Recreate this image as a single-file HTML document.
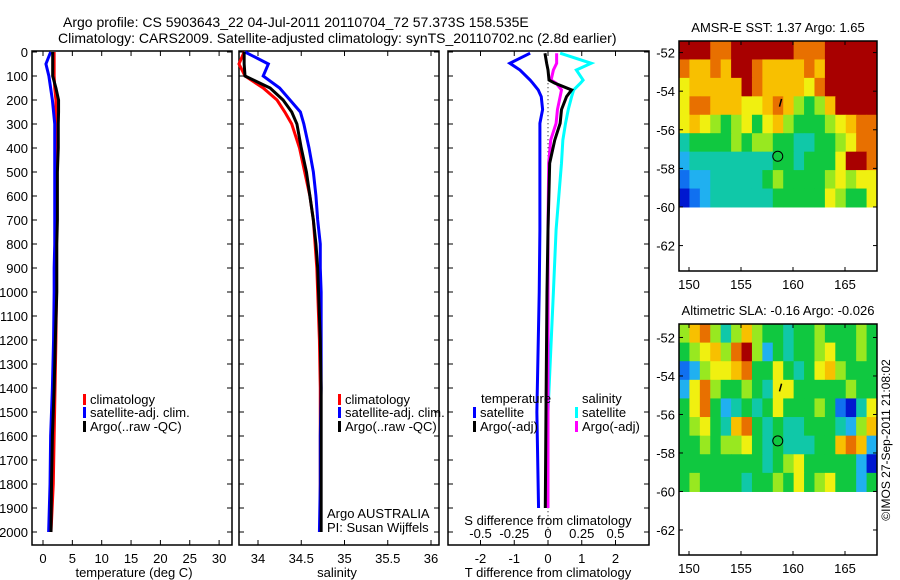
<!DOCTYPE html>
<html><head><meta charset="utf-8"><style>
body{margin:0;background:#fff;}
svg{display:block;font-family:"Liberation Sans",sans-serif;}
text{fill:#000;}
</style></head><body>
<svg id="fig" width="900" height="580" viewBox="0 0 900 580">
<text x="63" y="27" font-size="14">Argo profile: CS 5903643_22 04-Jul-2011 20110704_72 57.373S 158.535E</text>
<text x="58" y="43" font-size="14">Climatology: CARS2009. Satellite-adjusted climatology: synTS_20110702.nc (2.8d earlier)</text>
<g id="g"></g>
</svg>
<script>
// ---- data ----
const depths=[0,50,100,150,200,250,300,400,500,600,700,800,900,1000,1200,1400,1600,1800,2000];
const tempClim=[1.9,1.9,1.9,2.0,2.2,2.2,2.2,2.2,2.2,2.2,2.25,2.3,2.3,2.3,2.2,2.05,1.9,1.75,1.36];
const tempSat=[1.3,0.5,1.0,1.3,1.6,1.8,2.0,2.0,2.0,2.0,2.0,2.0,1.9,1.9,1.8,1.6,1.3,1.2,0.96];
const tempArgo=[1.65,1.65,1.65,2.2,2.65,2.65,2.6,2.6,2.45,2.45,2.45,2.35,2.35,2.35,2.1,1.9,1.6,1.45,1.36];
const salClim=[33.84,33.78,33.85,34.06,34.22,34.31,34.39,34.48,34.54,34.6,34.64,34.66,34.68,34.69,34.71,34.72,34.72,34.72,34.72];
const salSat=[33.85,34.12,34.06,34.25,34.37,34.49,34.53,34.59,34.64,34.67,34.69,34.72,34.72,34.73,34.73,34.73,34.72,34.72,34.71];
const salArgo=[33.84,33.84,33.85,34.14,34.29,34.39,34.45,34.5,34.56,34.6,34.64,34.67,34.69,34.7,34.72,34.73,34.73,34.73,34.73];
const dDepths=[5,47,75,117,130,158,186,240,297,367,463,740,1000,1500,1900];
const tDiffSat=[-0.53,-1.13,-0.83,-0.53,-0.45,-0.29,-0.2,-0.16,-0.24,-0.24,-0.24,-0.24,-0.26,-0.33,-0.28];
const tDiffArgo=[-0.09,-0.04,0,0.03,0.2,0.7,0.55,0.4,0.36,0.2,0.05,0.0,-0.03,-0.06,-0.08];
const sDiffSat=[0.09,0.32,0.21,0.26,0.24,0.19,0.175,0.15,0.13,0.11,0.1,0.06,0.04,0.0,-0.01];
const sDiffArgo=[0.064,0.064,0.04,0.023,0.06,0.1,0.09,0.07,0.06,0.02,0.005,0.0,0.0,0.0,0.0];
const depthTicks=[0,100,200,300,400,500,600,700,800,900,1000,1100,1200,1300,1400,1500,1600,1700,1800,1900,2000];
const tempTicks=[0,5,10,15,20,25,30];
const salTicks=[34,34.5,35,35.5,36];
const tDiffTicks=[-2,-1,0,1,2];
const sDiffTicks=[-0.5,-0.25,0,0.25,0.5];
const sstGrid=["9998899999988899999","8778799877778799999","6777779877776899999","6887776678754579999","6765456467544456788","3444454554433445688","2333333334434446998","1223333345444456566","0123333334444465446"];
const slaGrid=["5785357544344544454","4567589524344564454","1256678446434675444","2685445436644444544","4684234346444541036","4564378434334443257","4454556434333447872","4444444434564444420","4544443445464564424"];
const lonTicks=[150,155,160,165];
const latTicks=[-52,-54,-56,-58,-60,-62];
const floatLon=158.535, floatLat=-57.373;
// ---- drawing ----
const NS="http://www.w3.org/2000/svg";
const G=document.getElementById('g');
function el(t,a,txt){const e=document.createElementNS(NS,t);for(const k in a)e.setAttribute(k,a[k]);if(txt!==undefined)e.textContent=txt;G.appendChild(e);return e;}
const yD=d=>52+0.24*d;
const xT=v=>43+5.87*v, xS=v=>258+86.5*(v-34), xTD=v=>548+33.75*v, xSD=v=>548+135*v;
function frame(x0,x1,y0,y1,name){const r=el('rect',{x:x0,y:y0,width:x1-x0,height:y1-y0,fill:'none',stroke:'#000','stroke-width':1.5});

}
function line(xs,ys,col,name,w){const p=el('polyline',{points:xs.map((x,i)=>x+','+ys[i]).join(' '),fill:'none',stroke:col,'stroke-width':w||3});

}
function txt(x,y,s,anchor,name,size){const t=el('text',{x:x,y:y,'font-size':size||13,'text-anchor':anchor||'start'},s);

return t;}
// panels
const panels=[[32,232],[239,439],[448,649]];
panels.forEach((p,i)=>{frame(p[0],p[1],51,545,'profile-panel-'+(i+1));
depthTicks.forEach(d=>{el('line',{x1:p[0],x2:p[0]+5,y1:yD(d),y2:yD(d),stroke:'#000'});el('line',{x1:p[1],x2:p[1]-5,y1:yD(d),y2:yD(d),stroke:'#000'});});});
depthTicks.forEach(d=>txt(28,yD(d)+5,String(d),'end','depth-tick-label',13));
function xticks(ticks,f,p,name,top){ticks.forEach(v=>{const x=f(v);el('line',{x1:x,x2:x,y1:545,y2:540,stroke:'#000'});if(top)el('line',{x1:x,x2:x,y1:51,y2:56,stroke:'#000'});txt(x,563,String(v),'middle',name,13);});}
xticks(tempTicks,xT,panels[0],'temp-tick-label',true);
xticks(salTicks,xS,panels[1],'sal-tick-label',true);
xticks(tDiffTicks,xTD,panels[2],'tdiff-tick-label',true);
sDiffTicks.forEach(v=>txt(xSD(v),538,String(v),'middle','sdiff-tick-label',13));
txt(134,577,'temperature (deg C)','middle','temp-axis-title');
txt(337,577,'salinity','middle','sal-axis-title');
txt(548,577,'T difference from climatology','middle','tdiff-axis-title');
txt(548,525,'S difference from climatology','middle','sdiff-axis-title');
// profiles
const yd=depths.map(yD);
line(tempClim.map(xT),yd,'#f00','temp-climatology-line');
line(tempSat.map(xT),yd,'#00f','temp-satellite-line');
line(tempArgo.map(xT),yd,'#000','temp-argo-line');
line(salClim.map(xS),yd,'#f00','sal-climatology-line');
line(salSat.map(xS),yd,'#00f','sal-satellite-line');
line(salArgo.map(xS),yd,'#000','sal-argo-line');
const ydd=dDepths.map(yD);
const dz=el('line',{x1:548,x2:548,y1:yD(130),y2:yD(2000),stroke:'#000','stroke-dasharray':'1,3'});


line(tDiffSat.map(xTD),ydd,'#00f','tdiff-satellite-line');
line(sDiffSat.map(xSD),ydd,'#0ff','sdiff-satellite-line');
line(sDiffArgo.map(xSD),ydd,'#f0f','sdiff-argo-line');
line(tDiffArgo.map(xTD),ydd,'#000','tdiff-argo-line');
// legends
function leg(x,y,col,s,name){const r=el('rect',{x:x,y:y-10,width:3,height:11,fill:col});


txt(x+7,y,s,'start',name);}
leg(83,404,'#f00','climatology','legend-climatology');
leg(83,417,'#00f','satellite-adj. clim.','legend-satellite');
leg(83,431,'#000','Argo(..raw -QC)','legend-argo');
leg(338,404,'#f00','climatology','legend2-climatology');
leg(338,417,'#00f','satellite-adj. clim.','legend2-satellite');
leg(338,431,'#000','Argo(..raw -QC)','legend2-argo');
txt(327,518,'Argo AUSTRALIA','start','argo-australia-label');
txt(327,532,'PI: Susan Wijffels','start','pi-label');
txt(481,403,'temperature','start','legend-temperature-heading');
txt(582,403,'salinity','start','legend-salinity-heading');
leg(473,417,'#00f','satellite','legend-t-satellite');
leg(473,431,'#000','Argo(-adj)','legend-t-argo');
leg(575,417,'#0ff','satellite','legend-s-satellite');
leg(575,431,'#f0f','Argo(-adj)','legend-s-argo');
// maps
const pal=['#0018d0','#1070f0','#20b0f0','#10c8a8','#10c840','#98e820','#f0f010','#f8c000','#e87000','#a80000'];
function map(y0,y1,grid,name,title,pxPerLat,latTop){
const x0=679,x1=877,xL=lon=>689+(lon-150)*10.4,yL=lat=>y0+(latTop-lat)*pxPerLat;
const cw=(x1-x0)/grid[0].length,ch=(yL(-60)-y0)/grid.length;
grid.forEach((row,r)=>{for(let c=0;c<row.length;c++){const e=el('rect',{x:x0+c*cw,y:y0+r*ch,width:cw+0.5,height:ch+0.5,fill:pal[+row[c]]});

}});
frame(x0,x1,y0,y1,name+'-frame');
latTicks.forEach(v=>{el('line',{x1:x0,x2:x0+4,y1:yL(v),y2:yL(v),stroke:'#000'});el('line',{x1:x1,x2:x1-4,y1:yL(v),y2:yL(v),stroke:'#000'});txt(x0-4,yL(v)+5,String(v),'end',name+'-lat-label',13);});
lonTicks.forEach(v=>{el('line',{x1:xL(v),x2:xL(v),y1:y1,y2:y1-4,stroke:'#000'});el('line',{x1:xL(v),x2:xL(v),y1:y0,y2:y0+4,stroke:'#000'});txt(xL(v),y1+18,String(v),'middle',name+'-lon-label',13);});
const c=el('circle',{cx:xL(floatLon),cy:yL(floatLat),r:5,fill:'none',stroke:'#000'});


el('line',{x1:xL(158.9),y1:yL(-54.4),x2:xL(158.7),y2:yL(-54.8),stroke:'#000','stroke-width':1.5});
txt(778,y0-9,title,'middle',name+'-title');}
map(41,271,sstGrid,'sst-map','AMSR-E SST: 1.37 Argo: 1.65',19.3,-51.4);
map(324,555,slaGrid,'sla-map','Altimetric SLA: -0.16 Argo: -0.026',19.25,-51.3);
const cr=txt(0,0,'©IMOS 27-Sep-2011 21:08:02','middle','copyright-label',12);
cr.setAttribute('transform','translate(890,440) rotate(-90)');
</script>
</body></html>
